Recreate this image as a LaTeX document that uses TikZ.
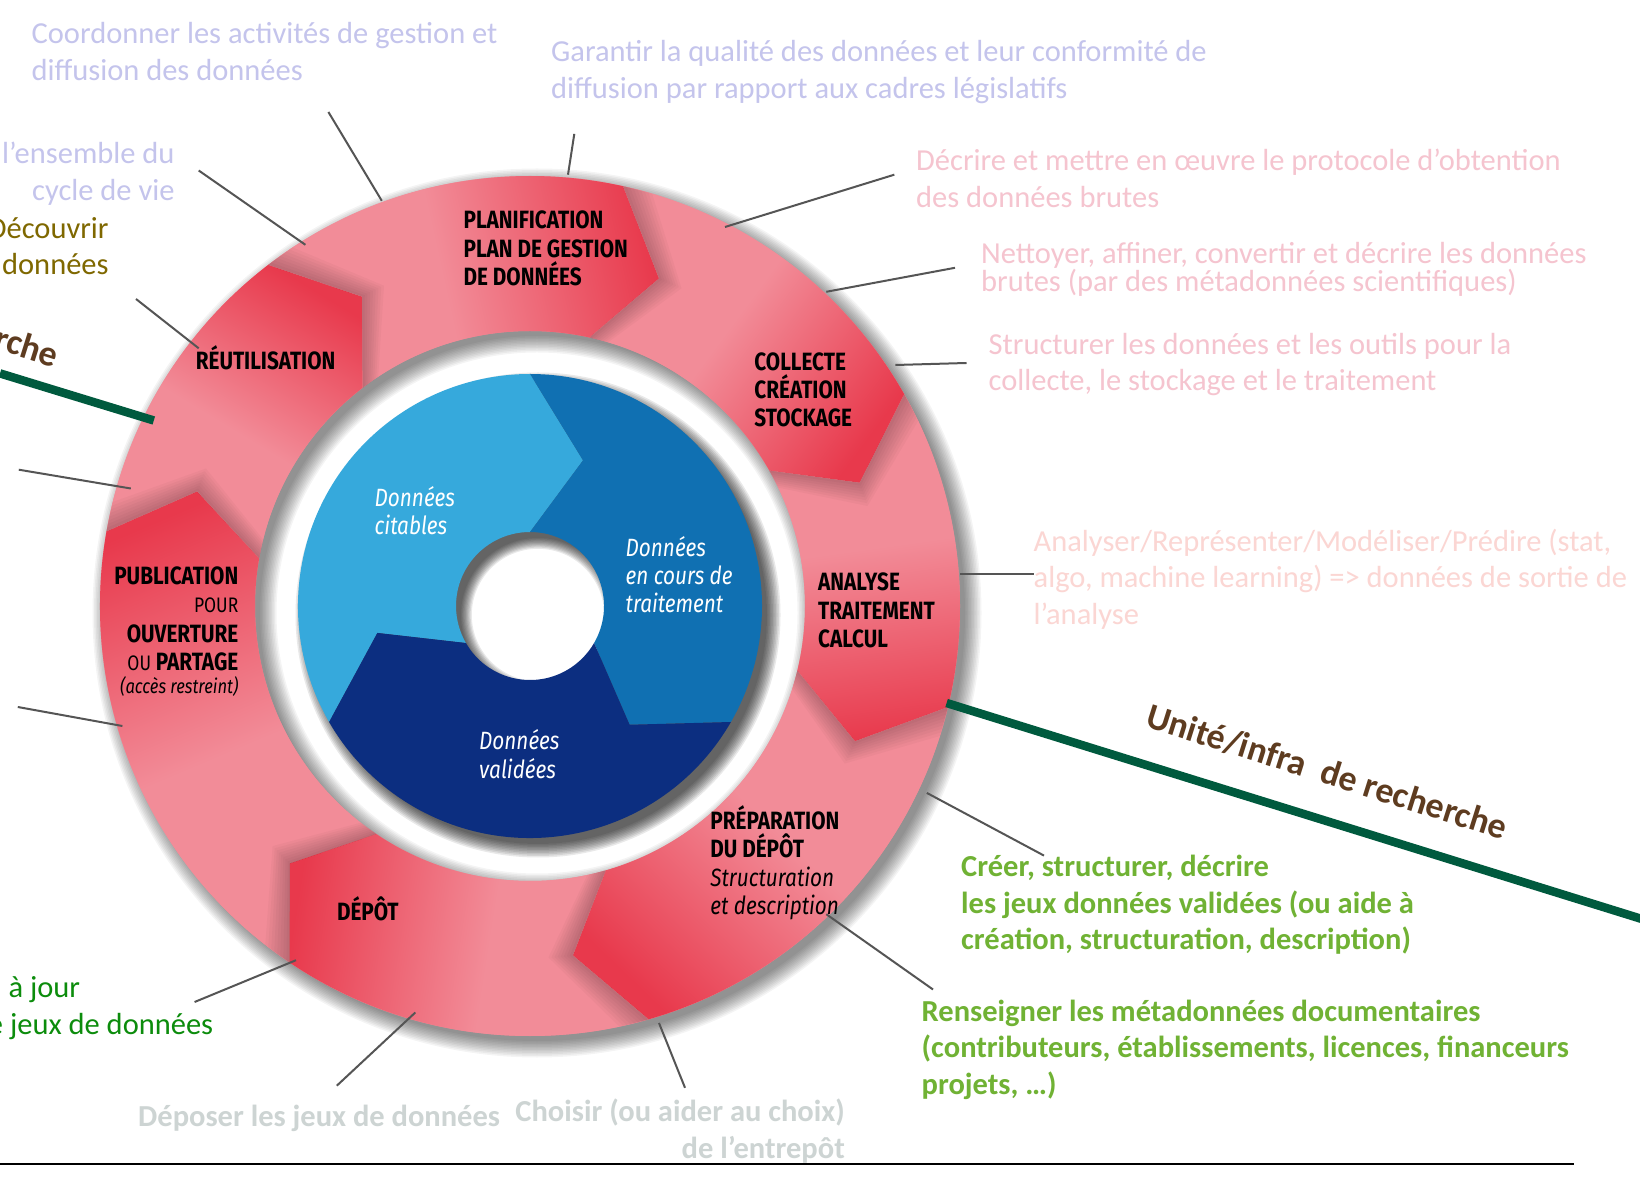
\documentclass[tikz,border=0pt]{standalone}
\usepackage{fontspec}
\setmainfont{Carlito}
\newfontfamily\lblfont[FakeStretch=0.83]{Fira Sans}
\usetikzlibrary{calc}

\definecolor{ringpink}{RGB}{242,140,152}
\definecolor{ringred}{RGB}{232,57,76}
\definecolor{bluelight}{RGB}{54,169,220}
\definecolor{bluemid}{RGB}{16,112,178}
\definecolor{bluenavy}{RGB}{12,46,128}
\definecolor{lavtxt}{RGB}{196,196,236}
\definecolor{olivetxt}{RGB}{127,104,0}
\definecolor{pinktxt}{RGB}{245,196,207}
\definecolor{peachtxt}{RGB}{251,214,211}
\definecolor{browntxt}{RGB}{94,60,32}
\definecolor{linegreen}{RGB}{0,90,62}
\definecolor{boldgreen}{RGB}{112,178,52}
\definecolor{midgreen}{RGB}{12,140,12}
\definecolor{greytxt}{RGB}{205,212,211}
\definecolor{connc}{RGB}{85,85,85}

\pgfdeclarehorizontalshading{headshade}{100bp}{color(0bp)=(ringpink); color(47bp)=(ringpink); color(76bp)=(ringred); color(100bp)=(ringred)}

\begin{document}
\begin{tikzpicture}[x=1pt,y=1pt,
  conn/.style={draw=connc, line width=2pt},
  desc/.style={inner sep=0pt, font=\fontsize{30.5}{36.6}\selectfont},
  descb/.style={inner sep=0pt, font=\fontsize{30.5}{36.6}\selectfont\bfseries},
  ringlbl/.style={inner sep=0pt, font=\lblfont\bfseries\fontsize{25}{28.2}\selectfont, text=black},
  bluelbl/.style={inner sep=0pt, font=\lblfont\itshape\fontsize{25}{28.2}\selectfont, text=white, align=left, anchor=north west},
  greenline/.style={draw=linegreen, line width=8.5pt},
]
\useasboundingbox (0,0) rectangle (1640,1176);
\clip (0,0) rectangle (1640,1176);
\fill[white] (0,0) rectangle (1640,1176);
\coordinate (C) at (530,570);

% ---- red ring shadow
\begin{scope}[shift={(537,563)}]
  \foreach \k in {0,...,11}{
    \pgfmathsetmacro\ro{428+1.5*\k}
    \pgfmathsetmacro\ri{277-1.5*\k}
    \fill[black, opacity=0.045, even odd rule] (0,0) circle[radius=\ro pt] (0,0) circle[radius=\ri pt];
  }
\end{scope}

% ---- red ring with arrows
\begin{scope}[shift={(C)}]
  \fill[ringpink, even odd rule] (0,0) circle[radius=430pt] (0,0) circle[radius=275pt];
  \foreach \s/\e in {236/170, 170/127.5, 127.5/77.5, 77.5/29.5, 29.5/-13.6, -13.6/-74, -74/-124}{
    \pgfmathsetmacro\ang{(\s+\e)/2-90}
    \pgfmathsetmacro\tipe{\e-9}
    \pgfmathsetmacro\tips{\s-9}
    \shade[shading=headshade, shading angle=\ang]
      (\s:430pt) arc[start angle=\s, end angle=\e, radius=430pt] -- (\tipe:352pt) -- (\e:275pt)
      arc[start angle=\e, end angle=\s, radius=275pt] -- (\tips:352pt) -- cycle;
  }
  \foreach \e in {170,127.5,77.5,29.5,-13.6,-74,-124}{
    \foreach \d in {0.5,1.0,...,4.0}{
      \pgfmathsetmacro\t{\e-9}
      \pgfmathsetmacro\ed{\e-\d}
      \pgfmathsetmacro\td{\e-9-\d}
      \fill[black, opacity=0.028] (\e:430pt) -- (\t:352pt) -- (\e:275pt) -- (\ed:275pt) -- (\td:352pt) -- (\ed:430pt) -- cycle;
    }
  }
\end{scope}

% ---- blue donut shadow
\begin{scope}[shift={(538,561)}]
  \foreach \k in {0,...,9}{
    \pgfmathsetmacro\ro{229+1.5*\k}
    \pgfmathsetmacro\ri{77-1.2*\k}
    \fill[black, opacity=0.085, even odd rule] (0,0) circle[radius=\ro pt] (0,0) circle[radius=\ri pt];
  }
\end{scope}

% ---- blue donut
\begin{scope}[shift={(C)}]
  \foreach \s/\e/\col in {210/90/bluelight, 90/-30/bluemid, -30/-150/bluenavy}{
    \pgfmathsetmacro\tipe{\e-20}
    \pgfmathsetmacro\tips{\s-20}
    \fill[\col] (\s:232pt) arc[start angle=\s, end angle=\e, radius=232pt] -- (\tipe:155pt) -- (\e:74pt)
      arc[start angle=\e, end angle=\s, radius=74pt] -- (\tips:155pt) -- cycle;
  }
\end{scope}

% ---- ring labels
\node[ringlbl, align=left, anchor=north west] (lplan) at (463.4,965) {PLANIFICATION\\PLAN DE GESTION\\DE DONNÉES};
\node[ringlbl, anchor=base west] (lreu) at (195.6,806.4) {RÉUTILISATION};
\node[ringlbl, align=left, anchor=north west] (lcol) at (754.2,823.6) {COLLECTE\\CRÉATION\\STOCKAGE};
\node[ringlbl, align=left, anchor=north west] (lana) at (818,603) {ANALYSE\\TRAITEMENT\\CALCUL};
\node[ringlbl, anchor=base west] (ldep) at (336.8,255.4) {DÉPÔT};
\node[ringlbl, align=left, anchor=north west] (lprep) at (710.2,370.4) {PRÉPARATION\\DU DÉPÔT\\{\mdseries\itshape Structuration}\\{\mdseries\itshape et description}};
\node[ringlbl, anchor=base east] (lpub1) at (238.5,591.1) {PUBLICATION};
\node[ringlbl, anchor=base east, font=\lblfont\mdseries\fontsize{21}{24}\selectfont] (lpub2) at (238.5,563.2) {POUR};
\node[ringlbl, anchor=base east] (lpub3) at (238.5,533.4) {OUVERTURE};
\node[ringlbl, anchor=base east] (lpub4) at (238.5,505.4) {{\mdseries\fontsize{21}{24}\selectfont OU} PARTAGE};
\node[ringlbl, anchor=base east, font=\lblfont\mdseries\itshape\fontsize{20}{24}\selectfont] (lpub5) at (238.5,482) {(accès restreint)};

% ---- blue labels
\node[bluelbl] (bcit) at (374.5,690) {Données\\citables};
\node[bluelbl] (bcours) at (625.5,640) {Données\\en cours de\\traitement};
\node[bluelbl] (bval) at (479,446.4) {Données\\validées};

% ---- descriptive texts
\node[desc, text=lavtxt, align=left, anchor=north west] (tcoord) at (31.4,1153.5) {Coordonner les activités de gestion et\\diffusion des données};
\node[desc, text=lavtxt, align=right, anchor=north east] (tens) at (174.7,1034.2) {l’ensemble du\\cycle de vie};
\node[desc, text=olivetxt, align=right, anchor=north east] (tdec) at (108.8,959) {Découvrir\\données};
\node[desc, text=lavtxt, align=left, anchor=north west] (tgar) at (551,1135.7) {Garantir la qualité des données et leur conformité de\\diffusion par rapport aux cadres législatifs};
\node[desc, text=pinktxt, align=left, anchor=north west] (tdecr) at (916,1027) {Décrire et mettre en œuvre le protocole d’obtention\\des données brutes};
\node[inner sep=0pt, font=\fontsize{30.5}{28}\selectfont, text=pinktxt, align=left, anchor=north west] (tnet) at (981,934) {Nettoyer, affiner, convertir et décrire les données\\brutes (par des métadonnées scientifiques)};
\node[desc, text=pinktxt, align=left, anchor=north west] (tstr) at (988.5,843) {Structurer les données et les outils pour la\\collecte, le stockage et le traitement};
\node[desc, text=peachtxt, align=left, anchor=north west] (tana) at (1033.5,647.2) {Analyser/Représenter/Modéliser/Prédire (stat,\\algo, machine learning) => données de sortie de\\l’analyse};
\node[descb, text=boldgreen, align=left, anchor=north west] (tcre) at (961,321) {Créer, structurer, décrire\\les jeux données validées (ou aide à\\création, structuration, description)};
\node[descb, text=boldgreen, align=left, anchor=north west] (tren) at (921.5,176.5) {Renseigner les métadonnées documentaires\\(contributeurs, établissements, licences, financeurs\\projets, …)};
\node[descb, text=greytxt, align=right, anchor=north east] (tcho) at (845,77) {Choisir (ou aider au choix)\\de l’entrepôt};
\node[descb, text=greytxt, anchor=north west] (tdep) at (138,71) {Déposer les jeux de données};
\node[desc, text=midgreen, anchor=north west] (tjour) at (8.4,199.5) {à jour};
\node[desc, text=midgreen, anchor=north east] (tjeux) at (213.4,163) {de jeux de données};

% ---- green lines and rotated labels
\coordinate (gl1) at (0,802.6);
\coordinate (gl2) at (153.8,755.5);
\coordinate (gr1) at (946.6,473);
\coordinate (gr2) at (1645,256);
\draw[greenline] (gl1) -- (gl2);
\draw[greenline] (gr1) -- (gr2);
\node[font=\fontsize{36}{40}\selectfont\bfseries, text=browntxt, rotate=-17.5, inner sep=0pt] (tunite) at (1327,404) {Unité/infra\ \ de recherche};
\node[font=\fontsize{36}{40}\selectfont\bfseries, text=browntxt, rotate=-17.5, inner sep=0pt] (trche) at (27,830) {rche};

% ---- connectors
\coordinate (ca1) at (328.4,1064);   \coordinate (ca2) at (381.8,975.2);
\coordinate (cb1) at (198.7,1005.5); \coordinate (cb2) at (305.4,931.2);
\coordinate (cc1) at (136,877);      \coordinate (cc2) at (198.7,827.7);
\coordinate (cd1) at (18.8,706.3);   \coordinate (cd2) at (130.8,687.5);
\coordinate (ce1) at (17.8,469);     \coordinate (ce2) at (122.4,450);
\coordinate (cf1) at (194.6,174);    \coordinate (cf2) at (296,215.8);
\coordinate (cg1) at (336.8,90.3);   \coordinate (cg2) at (415.3,163.5);
\coordinate (ch1) at (685,88.2);     \coordinate (ch2) at (659,153);
\coordinate (ci1) at (933,186.5);    \coordinate (ci2) at (826.3,261.8);
\coordinate (cj1) at (1044,320.4);   \coordinate (cj2) at (926.8,383.1);
\coordinate (ck1) at (1033.5,601.7); \coordinate (ck2) at (960,601.7);
\coordinate (cl1) at (966.5,813);    \coordinate (cl2) at (895.4,811);
\coordinate (cm1) at (955,908.2);    \coordinate (cm2) at (826.3,884.2);
\coordinate (cn1) at (894.3,1001.3); \coordinate (cn2) at (725,949);
\coordinate (co1) at (574.3,1042.1); \coordinate (co2) at (568,1001.3);
\foreach \c in {a,b,c,d,e,f,g,h,i,j,k,l,m,n,o}{
  \draw[conn] (c\c1) -- (c\c2);
}

% ---- bottom rule
\coordinate (bl1) at (0,12);
\coordinate (bl2) at (1574,12);
\draw[black, line width=2.5pt] (bl1) -- (bl2);
\end{tikzpicture}
\end{document}
